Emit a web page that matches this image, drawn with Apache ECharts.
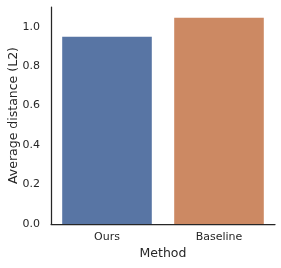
<!DOCTYPE html>
<html><head><meta charset="utf-8">
<script src="https://cdn.jsdelivr.net/npm/echarts@6/dist/echarts.min.js"></script>
<style>html,body{margin:0;padding:0;background:#fff}#c{width:281px;height:268px}</style>
</head><body><div id="c"></div>
<script>
const categories = ["Ours", "Baseline"];
const values = [0.949, 1.046];
const colors = ["#5875a4", "#cc8963"];
const yTicks = [0.0, 0.2, 0.4, 0.6, 0.8, 1.0];

const FF = 'DejaVu Sans';
const chart = echarts.init(document.getElementById('c'), null, {renderer: 'canvas'});
chart.setOption({
  animation: false,
  textStyle: {fontFamily: FF},
  grid: {left: 51, right: 6, top: 7, bottom: 44, containLabel: false, outerBoundsMode: 'none'},
  xAxis: {
    type: 'category', data: categories,
    name: 'Method', nameLocation: 'middle', nameGap: 23, nameMoveOverlap: false,
    nameTextStyle: {fontSize: 12.5, color: '#262626', fontFamily: FF},
    axisLine: {lineStyle: {color: '#262626', width: 1.25}},
    axisTick: {show: false},
    axisLabel: {fontSize: 11, color: '#262626', margin: 8, fontFamily: FF}
  },
  yAxis: {
    type: 'value', min: 0, max: 1.1, interval: 0.2,
    name: 'Average distance (L2)', nameLocation: 'middle', nameGap: 31, nameMoveOverlap: false,
    nameTextStyle: {fontSize: 12.5, color: '#262626', fontFamily: FF},
    axisLine: {show: true, lineStyle: {color: '#262626', width: 1.25}},
    axisTick: {show: false},
    splitLine: {show: false},
    axisLabel: {fontSize: 11, color: '#262626', margin: 11, fontFamily: FF,
      formatter: v => yTicks.some(t => Math.abs(t - v) < 1e-9) ? v.toFixed(1) : ''}
  },
  series: [{
    type: 'bar', barWidth: '80%',
    data: values.map((v, i) => ({value: v, itemStyle: {color: colors[i]}}))
  }]
});
</script></body></html>
